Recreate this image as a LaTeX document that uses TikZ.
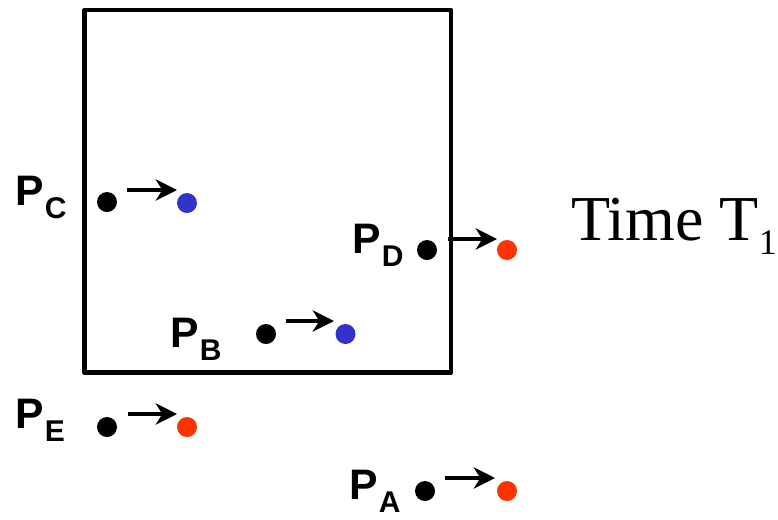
\documentclass[tikz,border=0pt]{standalone}
\usepackage{fontspec}
\setmainfont{Liberation Serif}
\setsansfont{Liberation Sans}
\usetikzlibrary{arrows.meta}
\definecolor{dotblue}{RGB}{51,51,204}
\definecolor{dotred}{RGB}{255,51,0}
\newcommand{\plabel}[1]{\sffamily\bfseries\fontsize{32}{32}\selectfont P\kern1pt\raisebox{-9.8pt}{\fontsize{22.5}{22.5}\selectfont #1}}
\begin{document}
\begin{tikzpicture}[x=0.75pt,y=-0.75pt,
  dotnode/.style={circle,fill=#1,inner sep=0pt,minimum size=15pt},
  lbl/.style={anchor=base west,inner sep=0pt,outer sep=0pt},
  mover/.style={line width=2.6pt,-{Stealth[length=16pt,width=16pt,inset=5pt]}},
  frame/.style={draw,line width=3.4pt,line join=round,inner sep=0pt,outer sep=0pt}]
\useasboundingbox (0,0) rectangle (778,519);
% box
\node[frame,minimum width=275pt,minimum height=271.9pt] (box) at (267.75,191.25) {};
% points: black start dots
\node[dotnode=black] (c0) at (107,202) {};
\node[dotnode=black] (d0) at (427,250) {};
\node[dotnode=black] (b0) at (266,334) {};
\node[dotnode=black] (e0) at (107,427) {};
\node[dotnode=black] (a0) at (425,491) {};
% moved dots
\node[dotnode=dotblue] (c1) at (187,203) {};
\node[dotnode=dotred] (d1) at (507,250) {};
\node[dotnode=dotblue] (b1) at (345.5,334) {};
\node[dotnode=dotred] (e1) at (187,427) {};
\node[dotnode=dotred] (a1) at (507,491) {};
% labels
\node[lbl] (lc) at (15,205) {\plabel{C}};
\node[lbl] (ld) at (352,253) {\plabel{D}};
\node[lbl] (lb) at (170,347) {\plabel{B}};
\node[lbl] (le) at (15,428) {\plabel{E}};
\node[lbl] (la) at (349,499) {\plabel{A}};
\node[lbl] (time) at (571,240) {\fontsize{48}{48}\selectfont Time T\raisebox{-11pt}{\fontsize{27}{27}\selectfont 1}};
% arrow ends
\coordinate (cs) at (127,190); \coordinate (ce) at (177,190);
\coordinate (ds) at (448,239); \coordinate (de) at (497,239);
\coordinate (bs) at (286,321); \coordinate (be) at (334,321);
\coordinate (es) at (128,414); \coordinate (ee) at (177,414);
\coordinate (as) at (445,478); \coordinate (ae) at (495,478);
\draw[mover] (cs) -- (ce);
\draw[mover] (ds) -- (de);
\draw[mover] (bs) -- (be);
\draw[mover] (es) -- (ee);
\draw[mover] (as) -- (ae);
\end{tikzpicture}
\end{document}
